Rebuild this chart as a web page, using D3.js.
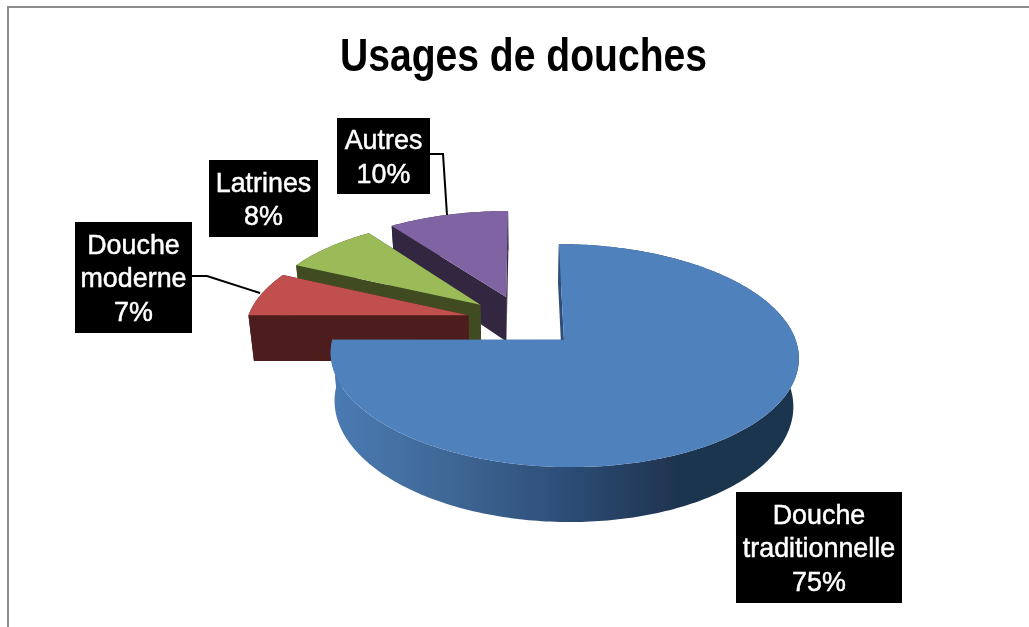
<!DOCTYPE html>
<html><head><meta charset="utf-8">
<script src="https://cdn.jsdelivr.net/npm/d3@7/dist/d3.min.js"></script>
<style>html,body{margin:0;padding:0;background:#fff}svg{display:block}text{font-family:"Liberation Sans",Arial,sans-serif}</style>
</head><body><script>
const title = "Usages de douches";
const categories = ["Douche traditionnelle","Douche moderne","Latrines","Autres"];
const labelLines = [["Douche","traditionnelle"],["Douche","moderne"],["Latrines"],["Autres"]];
const values = [75,7,8,10];
const topColors = ["#4F81BD","#C0504D","#9BBB59","#8064A2"];
const wallColors = ["url(#mainWall)","#4D1F1D","#3F4B24","#33283F"];
const sliceRadius = [1,.98,.985,1];
const labelBoxes = [[736,492,166,111],[75,222,117,111],[209,160,109,77],[337,118,93,76]];
const leaders = [null,[[192,276],[207,276],[260,293]],null,[[430,154],[443,154],[447,215]]];

const W=1029,H=627;
const svg=d3.select("body").append("svg").attr("width",W).attr("height",H);
const defs=svg.append("defs");
const g=defs.append("linearGradient").attr("id","mainWall").attr("gradientUnits","userSpaceOnUse")
  .attr("x1",335).attr("x2",795).attr("y1",0).attr("y2",0);
[[0,"#4A7AB3"],[.25,"#3F6795"],[.49,"#2E4E78"],[.74,"#1F3450"],[1,"#1F3450"]].forEach(s=>g.append("stop").attr("offset",s[0]).attr("stop-color",s[1]));
defs.append("filter").attr("id","soft").append("feGaussianBlur").attr("stdDeviation",.45);
defs.append("filter").attr("id","softText").append("feGaussianBlur").attr("stdDeviation",.3);

// frame
svg.append("path").attr("d",d3.line()([[8,H],[8,7],[W,7]])).attr("fill","none").attr("stroke","#8c8c8c").attr("stroke-width",2);

// projection of the pie plane
const K=.138, EXPLODE=.25, DEPTH=46, SHRINK=.98, CX=523;
const sx=d3.scaleLinear().domain([0,1]).range([CX,CX+226]);
const sy=d3.scaleLinear().domain([0,1]).range([321,321-104]);
const project=(u,v,low)=>{
  const d=1+K*v;
  const x=sx(u/d), y=sy(v/d);
  return low?[CX+(x-CX)*SHRINK,y+DEPTH/d]:[x,y];
};
const arcs=d3.pie().sort(null).startAngle(0).endAngle(2*Math.PI)(values);
const line=d3.line();
const chart=svg.append("g").attr("filter","url(#soft)");

// back-to-front: the last slice is the farthest
d3.range(arcs.length-1,-1,-1).forEach(i=>{
  const a=arcs[i], mid=(a.startAngle+a.endAngle)/2, R=sliceRadius[i];
  const ou=EXPLODE*Math.sin(mid), ov=EXPLODE*Math.cos(mid);
  const rim=(t,low)=>project(ou+R*Math.sin(t),ov+R*Math.cos(t),low);
  const apex=low=>project(ou,ov,low);
  const ts=d3.range(0,1.0001,1/Math.max(12,Math.round((a.endAngle-a.startAngle)*60))).map(d3.interpolate(a.startAngle,a.endAngle));
  const topRim=ts.map(t=>rim(t,false)), lowRim=ts.map(t=>rim(t,true));
  const slice=chart.append("g");
  slice.append("path").attr("d",line(topRim.concat(lowRim.slice().reverse()))+"Z").attr("fill",wallColors[i]);
  [a.startAngle,a.endAngle].forEach(t=>{
    slice.append("path").attr("d",line([apex(false),rim(t,false),rim(t,true),apex(true)])+"Z").attr("fill",wallColors[i]);
  });
  slice.append("path").attr("d",line([apex(false),...topRim])+"Z").attr("fill",topColors[i]);
});

// title
svg.append("text").attr("x",523.5).attr("y",71).attr("text-anchor","middle")
  .attr("font-size",46).attr("font-weight","bold").attr("fill","#000")
  .attr("textLength",367).attr("lengthAdjust","spacingAndGlyphs").attr("filter","url(#softText)").text(title);

// leaders
leaders.forEach(l=>{ if(l) svg.append("path").attr("d",line(l)).attr("fill","none").attr("stroke","#000").attr("stroke-width",2); });

// labels
const LH=33.5;
categories.forEach((c,i)=>{
  const b=labelBoxes[i], lines=labelLines[i].concat([values[i]+"%"]);
  svg.append("rect").attr("x",b[0]).attr("y",b[1]).attr("width",b[2]).attr("height",b[3]).attr("fill","#000");
  const top=b[1]+b[3]/2-(lines.length*LH)/2;
  lines.forEach((s,j)=>{
    svg.append("text").attr("text-anchor","middle").attr("font-size",28).attr("fill","#fff").attr("stroke","#fff").attr("stroke-width",.5).attr("filter","url(#softText)")
      .attr("transform",`translate(${b[0]+b[2]/2},${top+LH*j+26.5}) scale(.96,1)`).text(s);
  });
});
</script></body></html>
